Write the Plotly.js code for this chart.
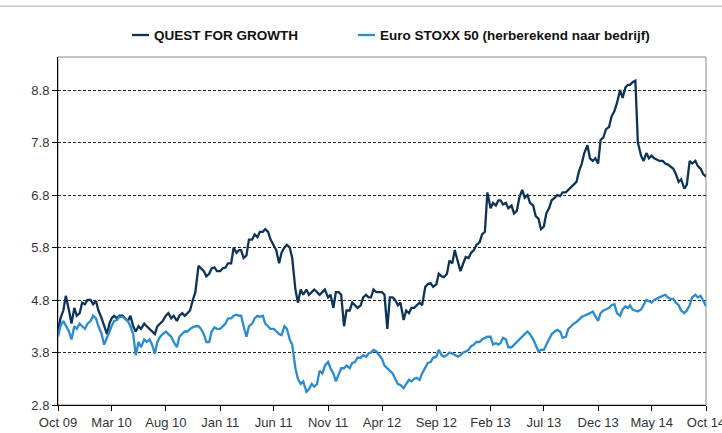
<!DOCTYPE html>
<html>
<head>
<meta charset="utf-8">
<script src="https://cdn.plot.ly/plotly-3.0.1.min.js"></script>
<style>html,body{margin:0;padding:0;background:#fff;}#chart{width:722px;height:433px;}</style>
</head>
<body>
<div id="chart"></div>
<script>
var dates = [
"2009-10-01","2009-10-08","2009-10-16","2009-10-23",
"2009-11-01","2009-11-08","2009-11-16","2009-11-23",
"2009-12-01","2009-12-08","2009-12-16","2009-12-23",
"2010-01-01","2010-01-08","2010-01-16","2010-01-23",
"2010-02-01","2010-02-08","2010-02-16","2010-02-23",
"2010-03-01","2010-03-08","2010-03-16","2010-03-23",
"2010-04-01","2010-04-08","2010-04-16","2010-04-23",
"2010-05-01","2010-05-08","2010-05-16","2010-05-23",
"2010-06-01","2010-06-08","2010-06-16","2010-06-23",
"2010-07-01","2010-07-08","2010-07-16","2010-07-23",
"2010-08-01","2010-08-08","2010-08-16","2010-08-23",
"2010-09-01","2010-09-08","2010-09-16","2010-09-23",
"2010-10-01","2010-10-08","2010-10-16","2010-10-23",
"2010-11-01","2010-11-08","2010-11-16","2010-11-23",
"2010-12-01","2010-12-08","2010-12-16","2010-12-23",
"2011-01-01","2011-01-08","2011-01-16","2011-01-23",
"2011-02-01","2011-02-08","2011-02-16","2011-02-23",
"2011-03-01","2011-03-08","2011-03-16","2011-03-23",
"2011-04-01","2011-04-08","2011-04-16","2011-04-23",
"2011-05-01","2011-05-08","2011-05-16","2011-05-23",
"2011-06-01","2011-06-08","2011-06-16","2011-06-23",
"2011-07-01","2011-07-08","2011-07-16","2011-07-23",
"2011-08-01","2011-08-08","2011-08-16","2011-08-23",
"2011-09-01","2011-09-08","2011-09-16","2011-09-23",
"2011-10-01","2011-10-08","2011-10-16","2011-10-23",
"2011-11-01","2011-11-08","2011-11-16","2011-11-23",
"2011-12-01","2011-12-08","2011-12-16","2011-12-23",
"2012-01-01","2012-01-08","2012-01-16","2012-01-23",
"2012-02-01","2012-02-08","2012-02-16","2012-02-23",
"2012-03-01","2012-03-08","2012-03-16","2012-03-23",
"2012-04-01","2012-04-08","2012-04-16","2012-04-23",
"2012-05-01","2012-05-08","2012-05-16","2012-05-23",
"2012-06-01","2012-06-08","2012-06-16","2012-06-23",
"2012-07-01","2012-07-08","2012-07-16","2012-07-23",
"2012-08-01","2012-08-08","2012-08-16","2012-08-23",
"2012-09-01","2012-09-08","2012-09-16","2012-09-23",
"2012-10-01","2012-10-08","2012-10-16","2012-10-23",
"2012-11-01","2012-11-08","2012-11-16","2012-11-23",
"2012-12-01","2012-12-08","2012-12-16","2012-12-23",
"2013-01-01","2013-01-08","2013-01-16","2013-01-23",
"2013-02-01","2013-02-08","2013-02-16","2013-02-23",
"2013-03-01","2013-03-08","2013-03-16","2013-03-23",
"2013-04-01","2013-04-08","2013-04-16","2013-04-23",
"2013-05-01","2013-05-08","2013-05-16","2013-05-23",
"2013-06-01","2013-06-08","2013-06-16","2013-06-23",
"2013-07-01","2013-07-08","2013-07-16","2013-07-23",
"2013-08-01","2013-08-08","2013-08-16","2013-08-23",
"2013-09-01","2013-09-08","2013-09-16","2013-09-23",
"2013-10-01","2013-10-08","2013-10-16","2013-10-23",
"2013-11-01","2013-11-08","2013-11-16","2013-11-23",
"2013-12-01","2013-12-08","2013-12-16","2013-12-23",
"2014-01-01","2014-01-08","2014-01-16","2014-01-23",
"2014-02-01","2014-02-08","2014-02-16","2014-02-23",
"2014-03-01","2014-03-08","2014-03-16","2014-03-23",
"2014-04-01","2014-04-08","2014-04-16","2014-04-23",
"2014-05-01","2014-05-08","2014-05-16","2014-05-23",
"2014-06-01","2014-06-08","2014-06-16","2014-06-23",
"2014-07-01","2014-07-08","2014-07-16","2014-07-23",
"2014-08-01","2014-08-08","2014-08-16","2014-08-23",
"2014-09-01","2014-09-08","2014-09-16","2014-09-23",
"2014-10-01"];

var questForGrowth = [
4.2,4.45,4.6,4.88,
4.6,4.35,4.65,4.5,
4.55,4.75,4.72,4.8,
4.8,4.72,4.78,4.6,
4.45,4.3,4.15,4.35,
4.45,4.5,4.45,4.5,
4.5,4.45,4.4,4.5,
4.3,4.2,4.3,4.25,
4.35,4.3,4.25,4.2,
4.15,4.3,4.35,4.4,
4.5,4.55,4.45,4.5,
4.4,4.5,4.55,4.5,
4.55,4.6,4.8,4.95,
5.45,5.4,5.35,5.25,
5.3,5.4,5.42,5.35,
5.35,5.4,5.42,5.5,
5.5,5.8,5.7,5.75,
5.75,5.6,5.65,5.95,
5.95,6.05,6.0,6.1,
6.1,6.15,6.1,5.95,
5.85,5.75,5.5,5.7,
5.8,5.85,5.8,5.6,
5.0,4.75,5.0,4.9,
5.0,4.9,4.95,5.0,
4.95,4.9,4.95,5.0,
4.85,4.9,4.65,4.95,
4.95,4.9,4.3,4.6,
4.6,4.75,4.7,4.65,
4.7,4.85,4.9,4.85,
4.85,5.0,4.95,4.95,
4.95,4.9,4.25,4.85,
4.85,4.8,4.7,4.75,
4.42,4.6,4.55,4.65,
4.65,4.7,4.75,4.7,
5.05,5.1,5.12,5.05,
5.1,5.3,5.25,5.24,
5.3,5.55,5.5,5.75,
5.55,5.35,5.5,5.62,
5.6,5.7,5.75,5.85,
5.9,6.05,6.1,6.85,
6.55,6.65,6.6,6.7,
6.7,6.62,6.65,6.55,
6.6,6.45,6.5,6.75,
6.9,6.75,6.8,6.65,
6.6,6.4,6.35,6.15,
6.2,6.45,6.55,6.7,
6.75,6.8,6.78,6.85,
6.85,6.9,6.95,7.0,
7.05,7.25,7.4,7.6,
7.75,7.5,7.45,7.5,
7.4,7.85,7.9,8.05,
8.1,8.3,8.4,8.55,
8.8,8.65,8.85,8.9,
8.9,8.95,8.98,7.8,
7.55,7.45,7.6,7.5,
7.55,7.5,7.48,7.45,
7.45,7.4,7.38,7.35,
7.3,7.2,7.05,7.1,
6.92,7.0,7.45,7.4,
7.45,7.35,7.3,7.2,
7.15];

var euroStoxx = [
4.1,4.3,4.4,4.3,
4.2,4.05,4.3,4.25,
4.35,4.3,4.25,4.35,
4.4,4.5,4.45,4.3,
4.15,3.95,4.1,4.2,
4.3,4.4,4.42,4.48,
4.48,4.45,4.4,4.3,
4.15,3.75,4.0,3.9,
4.05,4.0,4.05,3.95,
3.78,4.0,4.1,4.15,
4.2,4.15,4.1,4.0,
3.9,4.1,4.15,4.2,
4.2,4.25,4.28,4.3,
4.3,4.25,4.15,4.0,
4.0,4.2,4.28,4.25,
4.25,4.3,4.35,4.45,
4.45,4.5,4.52,4.5,
4.5,4.3,4.1,4.3,
4.35,4.45,4.5,4.48,
4.5,4.35,4.3,4.25,
4.25,4.2,4.15,4.13,
4.3,4.25,4.05,3.95,
3.5,3.3,3.2,3.25,
3.05,3.1,3.2,3.15,
3.2,3.45,3.4,3.55,
3.62,3.5,3.4,3.25,
3.4,3.5,3.5,3.55,
3.5,3.6,3.62,3.7,
3.7,3.75,3.72,3.78,
3.8,3.85,3.82,3.75,
3.68,3.55,3.5,3.45,
3.4,3.3,3.2,3.18,
3.12,3.2,3.28,3.25,
3.3,3.32,3.28,3.4,
3.52,3.6,3.62,3.7,
3.72,3.85,3.75,3.72,
3.75,3.8,3.78,3.75,
3.72,3.75,3.8,3.82,
3.85,3.92,3.95,4.0,
4.0,4.05,4.08,4.1,
4.1,3.95,3.98,3.95,
3.98,4.08,4.05,3.9,
3.9,3.95,4.0,4.05,
4.1,4.15,4.2,4.15,
4.05,3.95,3.82,3.85,
3.85,3.95,4.05,4.15,
4.2,4.23,4.2,4.08,
4.1,4.25,4.3,4.35,
4.38,4.42,4.48,4.5,
4.52,4.55,4.58,4.5,
4.4,4.55,4.6,4.62,
4.65,4.7,4.72,4.55,
4.5,4.62,4.68,4.65,
4.7,4.62,4.6,4.58,
4.62,4.7,4.8,4.78,
4.75,4.8,4.82,4.85,
4.88,4.9,4.85,4.82,
4.82,4.75,4.7,4.6,
4.55,4.6,4.7,4.85,
4.9,4.85,4.88,4.78,
4.68];

var seriesNames = ["QUEST FOR GROWTH", "Euro STOXX 50 (herberekend naar bedrijf)"];
var seriesColors = ["#0E3358", "#2B8BD0"];
var yTicks = [2.8, 3.8, 4.8, 5.8, 6.8, 7.8, 8.8];

var traces = [
  {x: dates, y: questForGrowth, name: seriesNames[0], type: "scatter", mode: "lines",
   line: {color: seriesColors[0], width: 2.3}, showlegend: false},
  {x: dates, y: euroStoxx, name: seriesNames[1], type: "scatter", mode: "lines",
   line: {color: seriesColors[1], width: 2.3}, showlegend: false}
];

// Custom legend (line sample + label) placed above the plot
var legendY = 1.0632;
var legendItems = [
  {x0: 0.1142, x1: 0.1404, tx: 0.1451},
  {x0: 0.4630, x1: 0.4892, tx: 0.4938}
];
var legendShapes = legendItems.map(function (it, i) {
  return {type: "line", xref: "paper", yref: "paper", x0: it.x0, x1: it.x1,
          y0: legendY, y1: legendY, line: {color: seriesColors[i], width: 2.3}};
});
var legendAnnotations = legendItems.map(function (it, i) {
  return {xref: "paper", yref: "paper", x: it.tx, y: legendY, xanchor: "left", yanchor: "middle",
          text: seriesNames[i], showarrow: false,
          font: {size: 13.5, color: "#111111", weight: 700, family: "Liberation Sans, Arial, sans-serif"}};
});

var layout = {
  width: 722, height: 433,
  margin: {l: 58, r: 16, t: 57, b: 28, pad: 0},
  paper_bgcolor: "#ffffff", plot_bgcolor: "#ffffff",
  font: {family: "Liberation Sans, Arial, sans-serif", color: "#333333", size: 13},
  showlegend: false,
  xaxis: {
    type: "date", range: ["2009-10-01", "2014-10-01"],
    tick0: "2009-10-01", dtick: "M5", tickformat: "%b %y",
    showgrid: false, zeroline: false,
    showline: true, linecolor: "#000000", linewidth: 1,
    ticks: "outside", ticklen: 5, tickcolor: "#000000",
    tickfont: {size: 13, color: "#333333"}, ticklabeloverflow: "allow"
  },
  yaxis: {
    range: [2.8, 9.43], tickvals: yTicks, tickformat: ".1f",
    showgrid: true, gridcolor: "#222222", gridwidth: 1, griddash: "3px,2px",
    zeroline: false, showline: true, linecolor: "#000000", linewidth: 1,
    ticks: "outside", ticklen: 5, tickcolor: "#000000",
    tickfont: {size: 13, color: "#333333"}
  },
  annotations: legendAnnotations,
  shapes: [
    {type: "rect", xref: "paper", yref: "paper", x0: 0, x1: 1, y0: 0, y1: 1,
     line: {color: "#888888", width: 1}, layer: "below"},
    {type: "line", xref: "paper", yref: "paper", x0: -0.1, x1: 1.05, y0: 1.146, y1: 1.146,
     line: {color: "#aaaaaa", width: 1}}
  ].concat(legendShapes)
};

Plotly.newPlot("chart", traces, layout, {displayModeBar: false, staticPlot: true});
</script>
</body>
</html>
